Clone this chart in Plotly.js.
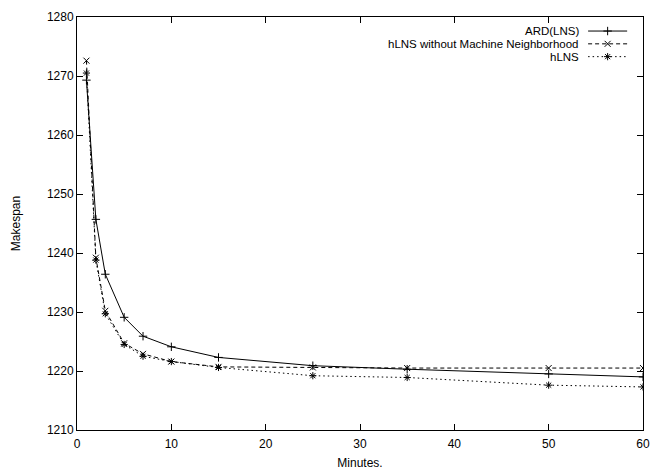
<!DOCTYPE html>
<html>
<head>
<meta charset="utf-8">
<script src="https://cdn.plot.ly/plotly-3.0.1.min.js"></script>
<style>html,body{margin:0;padding:0;background:#fff;} #chart{width:650px;height:471px;}</style>
</head>
<body>
<div id="chart"></div>
<script>
const minutes = [1, 2, 3, 5, 7, 10, 15, 25, 35, 50, 60];
const ardLNS = [1269.3, 1245.7, 1236.4, 1229.1, 1225.9, 1224.1, 1222.3, 1220.9, 1220.3, 1219.5, 1219.0];
const hLNSnoMN = [1272.6, 1239.2, 1230.2, 1224.7, 1222.9, 1221.6, 1220.7, 1220.6, 1220.5, 1220.5, 1220.5];
const hLNS = [1270.5, 1238.8, 1229.7, 1224.5, 1222.5, 1221.6, 1220.6, 1219.2, 1218.9, 1217.6, 1217.3];
const seriesNames = ["ARD(LNS)", "hLNS without Machine Neighborhood", "hLNS"];
const xTicks = [0, 10, 20, 30, 40, 50, 60];
const yTicks = [1210, 1220, 1230, 1240, 1250, 1260, 1270, 1280];

const styles = [
  {dash: "solid", symbol: "cross-thin-open"},
  {dash: "4px,3px", symbol: "x-thin-open"},
  {dash: "1.5px,3px", symbol: "asterisk-open"}
];
const ys = [ardLNS, hLNSnoMN, hLNS];
const FONT = "Liberation Sans, Arial, Helvetica, sans-serif";

const traces = ys.map((y, i) => ({
  x: minutes, y: y, type: "scatter", mode: "lines+markers", name: seriesNames[i],
  line: {color: "#000", width: 1, dash: styles[i].dash},
  marker: {symbol: styles[i].symbol, size: 6, color: "#000", line: {color: "#000", width: 1}},
  showlegend: false, hoverinfo: "skip"
}));

// custom gnuplot-style legend (text left, sample right)
const legRows = [0.966, 0.935, 0.904];
const annotations = [];
seriesNames.forEach((n, i) => {
  traces.push({
    x: [0.903, 0.972], y: [legRows[i], legRows[i]], xaxis: "x2", yaxis: "y2",
    type: "scatter", mode: "lines", line: {color: "#000", width: 1, dash: styles[i].dash},
    showlegend: false, hoverinfo: "skip"
  });
  traces.push({
    x: [0.9375], y: [legRows[i]], xaxis: "x2", yaxis: "y2",
    type: "scatter", mode: "markers",
    marker: {symbol: styles[i].symbol, size: 6, color: "#000", line: {color: "#000", width: 1}},
    showlegend: false, hoverinfo: "skip"
  });
  annotations.push({
    text: n, xref: "paper", yref: "paper", x: 0.889, y: legRows[i],
    xanchor: "right", yanchor: "middle", showarrow: false, borderpad: 0,
    font: {family: FONT, size: 11.5, color: "#000"}
  });
});

const layout = {
  width: 650, height: 471,
  margin: {l: 77, r: 7, t: 17, b: 41},
  paper_bgcolor: "#fff", plot_bgcolor: "#fff",
  font: {family: FONT, size: 12, color: "#000"},
  showlegend: false,
  xaxis: {
    range: [0, 60], tickvals: xTicks, ticktext: xTicks.map(String),
    ticks: "inside", ticklen: 6, tickwidth: 1, tickcolor: "#000",
    showline: true, linecolor: "#000", linewidth: 1, mirror: "ticks",
    showgrid: false, zeroline: false, ticklabelstandoff: 3,
    title: {text: "Minutes.", font: {family: FONT, size: 12}, standoff: 8},
    tickfont: {family: FONT, size: 12}
  },
  yaxis: {
    range: [1210, 1280], tickvals: yTicks, ticktext: yTicks.map(String),
    ticks: "inside", ticklen: 6, tickwidth: 1, tickcolor: "#000",
    showline: true, linecolor: "#000", linewidth: 1, mirror: "ticks",
    showgrid: false, zeroline: false,
    title: {text: "Makespan", font: {family: FONT, size: 12}, standoff: 23},
    tickfont: {family: FONT, size: 12}
  },
  xaxis2: {overlaying: "x", range: [0, 1], visible: false, fixedrange: true},
  yaxis2: {overlaying: "y", range: [0, 1], visible: false, fixedrange: true},
  annotations: annotations
};

Plotly.newPlot("chart", traces, layout, {staticPlot: true, displayModeBar: false});
</script>
</body>
</html>
